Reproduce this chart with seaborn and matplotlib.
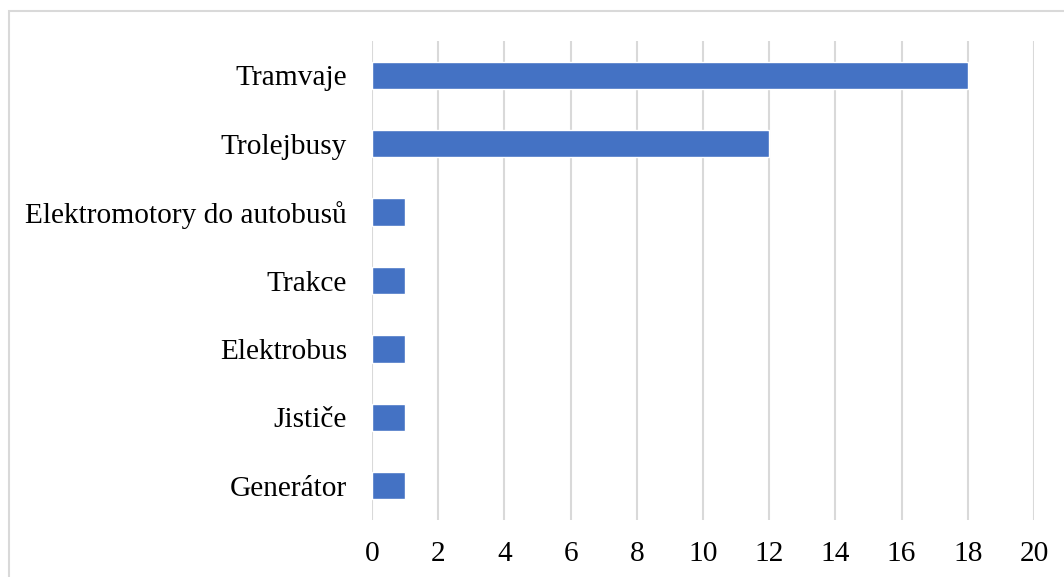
import matplotlib
matplotlib.use("Agg")
import matplotlib.pyplot as plt
import seaborn as sns
import pandas as pd
from matplotlib.patches import Rectangle

categories = ["Tramvaje", "Trolejbusy", "Elektromotory do autobusů", "Trakce",
              "Elektrobus", "Jističe", "Generátor"]
counts = [18, 12, 1, 1, 1, 1, 1]
x_ticks = list(range(0, 21, 2))

df = pd.DataFrame({"kategorie": categories, "pocet": counts})

sns.set_theme(style="white")
plt.rcParams["font.family"] = ["Liberation Serif", "DejaVu Serif"]

fig = plt.figure(figsize=(10.64, 5.77), dpi=100)
ax = fig.add_axes([0.3496, 0.0988, 0.9718 - 0.3496, 0.9289 - 0.0988])

sns.barplot(data=df, x="pocet", y="kategorie", order=categories,
            color="#4472C4", saturation=1, width=0.4, ax=ax, zorder=3)

ax.set_xlim(0, 20)
ax.set_xticks(x_ticks)
ax.set_xticklabels([str(t) for t in x_ticks])
ax.grid(axis="x", color="#D9D9D9", linewidth=1.5, zorder=0)
ax.grid(axis="y", visible=False)
for s in ax.spines.values():
    s.set_visible(False)
ax.set_xlabel("")
ax.set_ylabel("")
ax.tick_params(axis="y", length=0, pad=18, labelsize=21.2, labelcolor="black")
ax.tick_params(axis="x", length=0, pad=15, labelsize=21.2, labelcolor="black")

# chart frame
fig.patches.append(Rectangle((9 / 1064, -0.05), 1.2, 1 - 11 / 577 + 0.05,
                             transform=fig.transFigure, fill=False,
                             edgecolor="#D9D9D9", linewidth=1.5))

fig.savefig("out.png", dpi=100)
